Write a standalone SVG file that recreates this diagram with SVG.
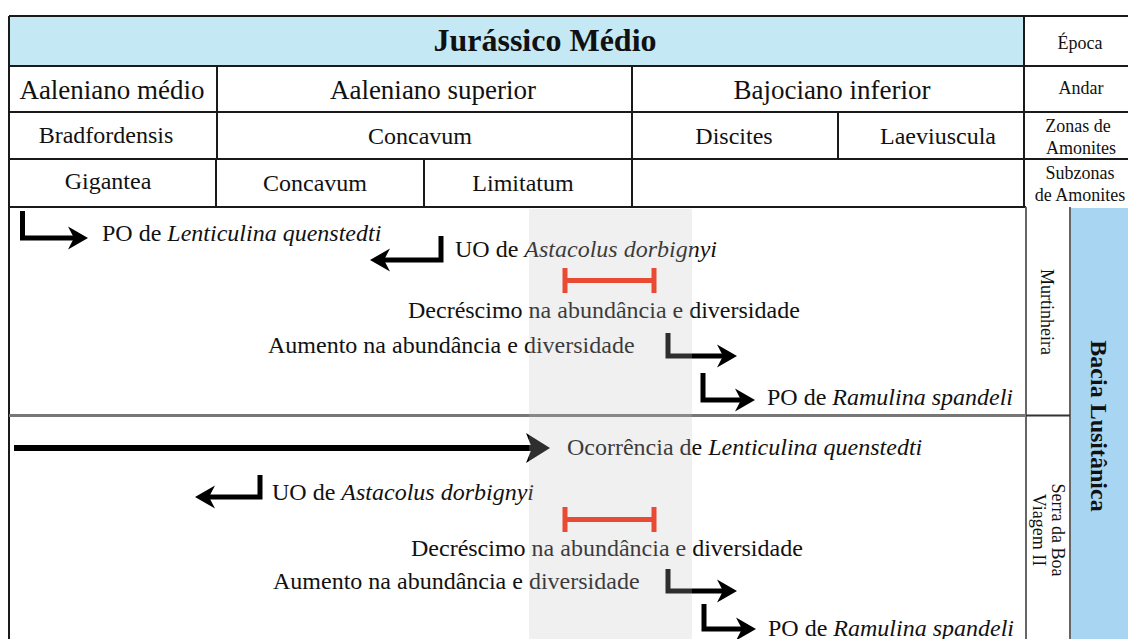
<svg xmlns="http://www.w3.org/2000/svg" width="1128" height="639" viewBox="0 0 1128 639">
<style>
.t{font-family:"Liberation Serif","Times New Roman",serif;fill:#111}
.h27{font-size:27px}
.h24{font-size:24px}
.s17{font-size:18px}
.b24{font-size:24px}
.i{font-style:italic}
.bd{stroke:#1a1a1a;stroke-width:2;fill:none}
.gl{stroke:#666;stroke-width:2;fill:none}
.arr{stroke:#000;stroke-width:5;fill:none;stroke-linejoin:miter;stroke-linecap:butt}
.red{stroke:#e84a33;stroke-width:5;fill:none}
</style>
<defs>
<marker id="ah" markerUnits="userSpaceOnUse" markerWidth="24" markerHeight="26" refX="8" refY="12" orient="auto">
<path d="M0,0.5 L20,12 L0,23.5 L6,12 Z" fill="#000"/>
</marker>
</defs>
<rect width="1128" height="639" fill="#fff"/>

<g id="header">
<rect x="9" y="16" width="1015" height="50" fill="#c5e8f5"/>
<path class="bd" d="M9,16 H1128 M9,66 H1128 M9,112 H1128 M9,159 H1128 M9,207 H1026 M9,16 V639 M1024,16 V207 M217,66 V159 M216,159 V207 M424,159 V207 M632,66 V207 M838,112 V159"/>
<text class="t" x="545" y="51" font-size="32" font-weight="bold" text-anchor="middle">Jurássico Médio</text>
</g>
<g id="row-andar">
<text class="t h27" x="112" y="99" text-anchor="middle">Aaleniano médio</text>
<text class="t h27" x="433" y="99" text-anchor="middle">Aaleniano superior</text>
<text class="t h27" x="832" y="99" text-anchor="middle">Bajociano inferior</text>
</g>
<g id="row-zonas">
<text class="t h24" x="106" y="143" text-anchor="middle">Bradfordensis</text>
<text class="t h24" x="420" y="144" text-anchor="middle">Concavum</text>
<text class="t h24" x="734" y="144" text-anchor="middle">Discites</text>
<text class="t h24" x="938" y="144" text-anchor="middle">Laeviuscula</text>
</g>
<g id="row-subzonas">
<text class="t h24" x="108" y="189" text-anchor="middle">Gigantea</text>
<text class="t h24" x="315" y="191" text-anchor="middle">Concavum</text>
<text class="t h24" x="523" y="191" text-anchor="middle">Limitatum</text>
</g>
<g id="labels-right">
<text class="t s17" x="1080" y="49" text-anchor="middle">Época</text>
<text class="t s17" x="1081" y="94" text-anchor="middle">Andar</text>
<text class="t s17" x="1078" y="132" text-anchor="middle">Zonas de</text>
<text class="t s17" x="1081" y="154" text-anchor="middle">Amonites</text>
<text class="t s17" x="1080" y="179" text-anchor="middle">Subzonas</text>
<text class="t s17" x="1080" y="201" text-anchor="middle">de Amonites</text>
</g>

<g id="section-frame">
<rect x="1070" y="208" width="58" height="431" fill="#a8d5f2"/>
<path class="gl" d="M1026,207 V639 M1070,207 V639"/>
<path d="M9,415.5 H1026" stroke="#777" stroke-width="3"/>
<path d="M1026,415.5 H1070" stroke="#333" stroke-width="2"/>
</g>
<g id="murtinheira">
<text class="t s17" transform="translate(1041,312) rotate(90)" text-anchor="middle">Murtinheira</text>
</g>
<g id="serra-boa-viagem">
<text class="t s17" transform="translate(1052,530) rotate(90)" text-anchor="middle"><tspan x="0" y="0">Serra da Boa</tspan><tspan x="0" y="19">Viagem II</tspan></text>
</g>
<g id="bacia">
<text class="t b24" font-weight="bold" transform="translate(1091,426) rotate(90)" text-anchor="middle">Bacia Lusitânica</text>
</g>

<g id="connectors">
<path class="arr" d="M22.5,211 V238 H76" marker-end="url(#ah)"/>
<path class="arr" d="M441,236 V260 H382" marker-end="url(#ah)"/>
<path class="arr" d="M668,333 V356 H725" marker-end="url(#ah)"/>
<path class="arr" d="M703,373 V400 H743" marker-end="url(#ah)"/>
<path d="M14,448 H533" stroke="#000" stroke-width="6"/>
<path d="M550,448 L526,433 L532,448 L526,463 Z" fill="#000"/>
<path class="arr" d="M260,475 V497 H207" marker-end="url(#ah)"/>
<path class="arr" d="M668,569 V591 H725" marker-end="url(#ah)"/>
<path class="arr" d="M704,604 V629 H744" marker-end="url(#ah)"/>
</g>

<g id="murtinheira-events">
<text class="t h24" x="102" y="241">PO de <tspan class="i">Lenticulina quenstedti</tspan></text>
<text class="t h24" x="455" y="257">UO de <tspan class="i">Astacolus dorbignyi</tspan></text>
<text class="t h24" x="408" y="318">Decréscimo na abundância e diversidade</text>
<text class="t h24" x="268" y="353">Aumento na abundância e diversidade</text>
<text class="t h24" x="767" y="405">PO de <tspan class="i">Ramulina spandeli</tspan></text>
</g>
<g id="serra-events">
<text class="t h24" x="567" y="455">Ocorrência de <tspan class="i">Lenticulina quenstedti</tspan></text>
<text class="t h24" x="272" y="500">UO de <tspan class="i">Astacolus dorbignyi</tspan></text>
<text class="t h24" x="411" y="556">Decréscimo na abundância e diversidade</text>
<text class="t h24" x="273" y="589">Aumento na abundância e diversidade</text>
<text class="t h24" x="768" y="636">PO de <tspan class="i">Ramulina spandeli</tspan></text>
</g>

<g id="band">
<rect x="529" y="209" width="163" height="430" fill="#bfbfbf" fill-opacity="0.24"/>
</g>

<g id="red-bars">
<path class="red" d="M565,268 V293 M654,268 V293 M565,280.5 H654"/>
<path class="red" d="M565,507 V532 M654,507 V532 M565,519.5 H654"/>
</g>
</svg>
